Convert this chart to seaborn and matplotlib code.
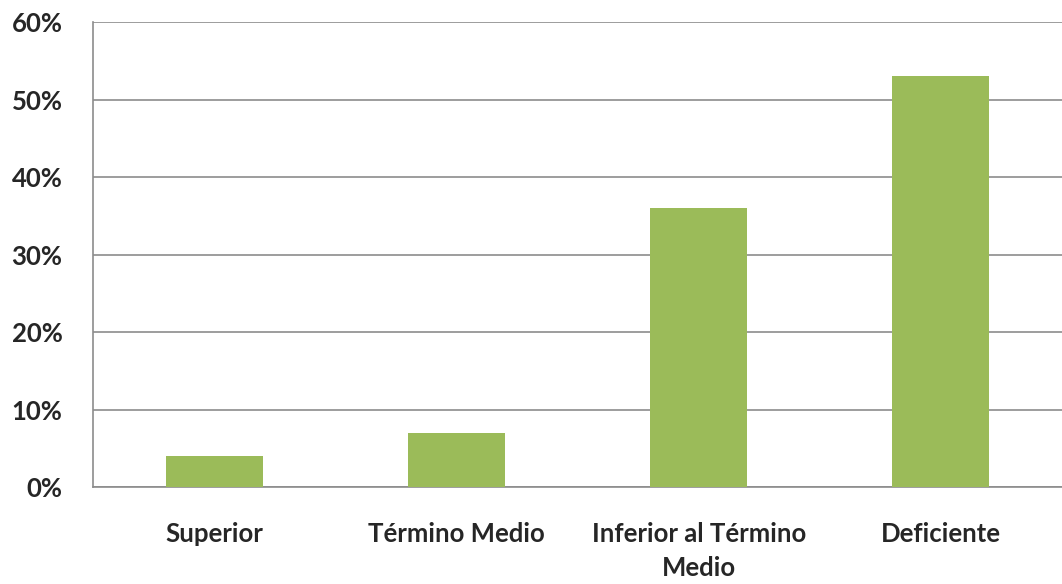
import pandas as pd
import matplotlib
matplotlib.use('Agg')
import matplotlib.pyplot as plt
import seaborn as sns
from matplotlib.ticker import PercentFormatter

categories = ['Superior', 'Término Medio', 'Inferior al Término\nMedio', 'Deficiente']
values = [4, 7, 36, 53]

df = pd.DataFrame({'categoria': categories, 'porcentaje': values})

sns.set_style('white')
plt.rcParams['font.family'] = ['Lato', 'DejaVu Sans']

fig = plt.figure(figsize=(10.62, 5.84), dpi=100)
ax = fig.add_axes([0.0876, 0.166, 0.9124, 0.796])

sns.barplot(data=df, x='categoria', y='porcentaje', color='#9BBB59',
            saturation=1, width=0.4, linewidth=0, ax=ax, zorder=3)

ax.set_xlim(-0.5, 3.5)
ax.set_ylim(0, 60)
ax.set_yticks(range(0, 61, 10))
ax.yaxis.set_major_formatter(PercentFormatter(decimals=0))
ax.grid(axis='y', color='#8C8C8C', linewidth=1.2, zorder=0)
ax.set_axisbelow(True)

for side in ['top', 'right']:
    ax.spines[side].set_visible(False)
for side in ['left', 'bottom']:
    ax.spines[side].set_color('#8C8C8C')
    ax.spines[side].set_linewidth(1.2)

ax.set_xlabel('')
ax.set_ylabel('')
ax.tick_params(axis='both', length=0, labelsize=18.5)
ax.tick_params(axis='x', pad=25)
ax.tick_params(axis='y', pad=22)
for lbl in ax.get_xticklabels() + ax.get_yticklabels():
    lbl.set_fontweight('bold')
for lbl in ax.get_xticklabels():
    lbl.set_va('top')
    lbl.set_ha('center')
    lbl.set_linespacing(1.5)

plt.savefig('out.png', dpi=100)
